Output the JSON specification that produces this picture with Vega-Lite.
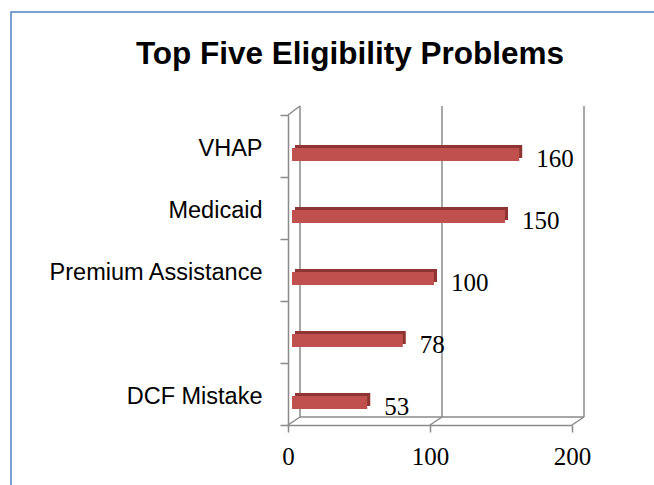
{
  "$schema": "https://vega.github.io/schema/vega-lite/v6.json",
  "autosize": {"type": "none"},
  "width": 660,
  "height": 490,
  "padding": {"left": 11, "top": 12, "right": 0, "bottom": 0},
  "background": "white",
  "config": {
    "view": {"stroke": "#4F81BD", "strokeWidth": 1.5},
    "font": "Liberation Sans"
  },
  "title": {
    "text": "Top Five Eligibility Problems",
    "font": "Liberation Sans",
    "fontSize": 31.5,
    "fontWeight": "bold",
    "color": "#000000",
    "anchor": "middle",
    "frame": "group",
    "dx": 9,
    "baseline": "alphabetic",
    "offset": -95
  },
  "datasets": {
    "bars": [
      {"cat": "VHAP", "value": 160},
      {"cat": "Medicaid", "value": 150},
      {"cat": "Premium Assistance", "value": 100},
      {"cat": "", "value": 78},
      {"cat": "DCF Mistake", "value": 53}
    ],
    "grid": [{"g": 0}, {"g": 100}, {"g": 200}]
  },
  "layer": [
    {
      "data": {"name": "grid"},
      "mark": {"type": "rule", "color": "#8a8a8a", "strokeWidth": 1.5, "xOffset": 12, "yOffset": -9, "y2Offset": -8},
      "encoding": {
        "x": {"field": "g", "type": "quantitative", "scale": {"domain": [0, 200], "range": [277, 561]},
          "axis": {"orient": "bottom", "offset": -77, "values": [0, 100, 200], "grid": false, "title": null, "labelFlush": false,
            "domainColor": "#8a8a8a", "domainWidth": 1.5, "tickColor": "#8a8a8a", "tickWidth": 1.5, "tickSize": 7,
            "labelFont": "Liberation Serif", "labelFontSize": 25, "labelColor": "#000000", "labelPadding": 12}},
        "y": {"datum": "VHAP", "type": "nominal", "bandPosition": 0,
          "scale": {"domain": ["VHAP", "Medicaid", "Premium Assistance", "", "DCF Mistake"], "range": [103, 413], "paddingInner": 0, "paddingOuter": 0},
          "axis": {"orient": "left", "offset": -277, "title": null, "tickBand": "extent",
            "domainColor": "#8a8a8a", "domainWidth": 1.5, "tickColor": "#8a8a8a", "tickWidth": 1.5, "tickSize": 8,
            "labelFont": "Liberation Sans", "labelFontSize": 23.5, "labelColor": "#000000", "labelPadding": 18, "labelOffset": 2, "labelLimit": 400}},
        "y2": {"datum": "DCF Mistake", "bandPosition": 1}
      }
    },
    {
      "data": {"name": "grid"},
      "mark": {"type": "rule", "color": "#8a8a8a", "strokeWidth": 1.5, "x2Offset": 12, "y2Offset": -8},
      "encoding": {
        "x": {"field": "g", "type": "quantitative"},
        "x2": {"field": "g"},
        "y": {"datum": "DCF Mistake", "type": "nominal", "bandPosition": 1},
        "y2": {"datum": "DCF Mistake", "bandPosition": 1}
      }
    },
    {
      "data": {"values": [{"a": 0, "b": 200}]},
      "mark": {"type": "rule", "color": "#8a8a8a", "strokeWidth": 1.5, "xOffset": 12, "x2Offset": 12, "yOffset": -8},
      "encoding": {
        "x": {"field": "a", "type": "quantitative"},
        "x2": {"field": "b"},
        "y": {"datum": "DCF Mistake", "type": "nominal", "bandPosition": 1}
      }
    },
    {
      "data": {"values": [{"a": 0}]},
      "mark": {"type": "rule", "color": "#8a8a8a", "strokeWidth": 1.5, "x2Offset": 12, "y2Offset": -9},
      "encoding": {
        "x": {"field": "a", "type": "quantitative"},
        "x2": {"field": "a"},
        "y": {"datum": "VHAP", "type": "nominal", "bandPosition": 0},
        "y2": {"datum": "VHAP", "bandPosition": 0}
      }
    },
    {
      "data": {"name": "bars"},
      "mark": {"type": "bar", "color": "#8E3532", "size": 13, "xOffset": 7, "x2Offset": 7, "yOffset": 5.5},
      "encoding": {
        "x": {"field": "value", "type": "quantitative"},
        "x2": {"datum": 0},
        "y": {"field": "cat", "type": "nominal", "sort": null}
      }
    },
    {
      "data": {"name": "bars"},
      "mark": {"type": "bar", "color": "#C0504D", "size": 13, "xOffset": 4, "x2Offset": 4, "yOffset": 8.5},
      "encoding": {
        "x": {"field": "value", "type": "quantitative"},
        "x2": {"datum": 0},
        "y": {"field": "cat", "type": "nominal", "sort": null}
      }
    },
    {
      "data": {"name": "bars"},
      "mark": {"type": "text", "align": "left", "baseline": "middle", "dx": 21, "dy": 12.5, "font": "Liberation Serif", "fontSize": 25, "color": "#000000"},
      "encoding": {
        "x": {"field": "value", "type": "quantitative"},
        "y": {"field": "cat", "type": "nominal", "sort": null},
        "text": {"field": "value", "type": "quantitative"}
      }
    }
  ]
}
